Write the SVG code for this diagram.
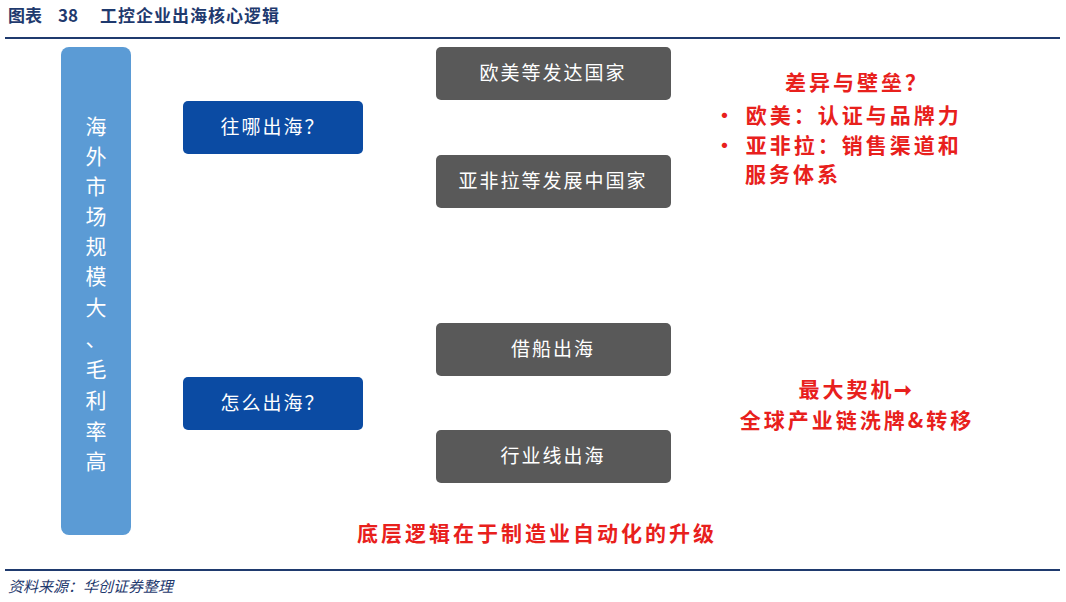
<svg xmlns="http://www.w3.org/2000/svg" width="1066" height="602" viewBox="0 0 1066 602">
<style>
text{font-family:"Noto Sans CJK SC","Noto Sans",sans-serif}
.g rect{fill:#595959}
.g text{fill:#fff;font-size:19px;text-anchor:middle;letter-spacing:2px}
.b rect{fill:#0B4BA3}
.b text{fill:#fff;font-size:19px;text-anchor:middle;letter-spacing:2px}
.r{fill:#E8201C;font-size:21px;font-weight:bold;letter-spacing:3px}
.v{fill:#fff;font-size:21px;text-anchor:middle}
.t{font-size:17px;font-weight:bold;fill:#1F3A6E}
</style>
<rect width="1066" height="602" fill="#fff"/>
<text class="t" x="8" y="22">图表</text><text class="t" x="58" y="22">38</text><text class="t" x="100" y="22" letter-spacing="1">工控企业出海核心逻辑</text>
<line x1="5" y1="38" x2="1060" y2="38" stroke="#1F3A6E" stroke-width="2"/>
<g id="left"><rect x="61" y="47" width="70" height="488" rx="8" fill="#5B9BD5"/>
<text class="v" x="96" y="134">海</text><text class="v" x="96" y="164">外</text><text class="v" x="96" y="194">市</text><text class="v" x="96" y="224">场</text><text class="v" x="96" y="254">规</text><text class="v" x="96" y="284">模</text><text class="v" x="96" y="315">大</text><text class="v" x="96" y="346">、</text><text class="v" x="96" y="377">毛</text><text class="v" x="96" y="408">利</text><text class="v" x="96" y="439">率</text><text class="v" x="96" y="469">高</text></g>
<g id="q1" class="b"><rect x="183" y="101" width="180" height="53" rx="5"/><text x="273" y="134">往哪出海？</text></g>
<g id="q2" class="b"><rect x="183" y="377" width="180" height="53" rx="5"/><text x="273" y="410">怎么出海？</text></g>
<g id="n1" class="g"><rect x="436" y="47" width="235" height="53" rx="5"/><text x="553" y="80">欧美等发达国家</text></g>
<g id="n2" class="g"><rect x="436" y="155" width="235" height="53" rx="5"/><text x="553" y="188">亚非拉等发展中国家</text></g>
<g id="n3" class="g"><rect x="436" y="323" width="235" height="53" rx="5"/><text x="553" y="356">借船出海</text></g>
<g id="n4" class="g"><rect x="436" y="430" width="235" height="53" rx="5"/><text x="553" y="463">行业线出海</text></g>
<g id="notes">
<text class="r" x="857" y="90" text-anchor="middle">差异与壁垒？</text>
<text class="r" x="714" y="123">•  欧美：认证与品牌力</text>
<text class="r" x="714" y="153">•  亚非拉：销售渠道和</text>
<text class="r" x="745" y="182">服务体系</text>
<text class="r" x="857" y="397" text-anchor="middle">最大契机➞</text>
<text class="r" x="857" y="428" text-anchor="middle">全球产业链洗牌&amp;转移</text>
<text class="r" x="537" y="541" text-anchor="middle">底层逻辑在于制造业自动化的升级</text>
</g>
<g id="connectors"></g>
<line x1="5" y1="570" x2="1060" y2="570" stroke="#1F3A6E" stroke-width="2"/>
<text x="8" y="592" font-size="15" font-style="italic" fill="#1F3A6E">资料来源：华创证券整理</text>
</svg>
